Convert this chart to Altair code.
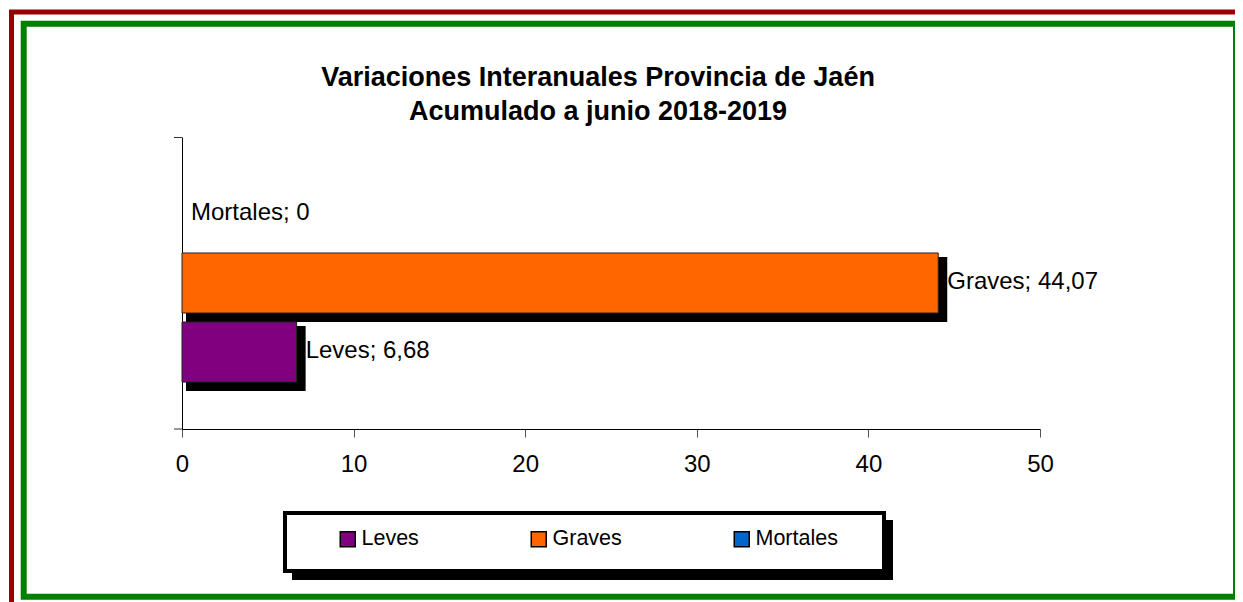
import altair as alt
import pandas as pd

# ---- data ----
series = ["Leves", "Graves", "Mortales"]
values = [6.68, 44.07, 0.0]
colors = ["#800080", "#FF6600", "#0066CC"]
bar_order = ["Mortales", "Graves", "Leves"]
x_ticks = [0, 10, 20, 30, 40, 50]
title_lines = ["Variaciones Interanuales Provincia de Jaén", "Acumulado a junio 2018-2019"]

FONT = "Liberation Sans"


def fmt(v):
    s = f"{v:.2f}".rstrip("0").rstrip(".")
    return s.replace(".", ",")


df = pd.DataFrame({
    "serie": series,
    "valor": values,
    "etiqueta": [f"{s}; {fmt(v)}" for s, v in zip(series, values)],
})

x_enc = alt.X(
    "valor:Q",
    scale=alt.Scale(domain=[0, 50], nice=False, zero=True),
    axis=alt.Axis(values=x_ticks, title=None, grid=False, labelFontSize=24,
                  labelFont=FONT, labelColor="black", tickSize=8, tickColor="#555",
                  domainColor="black", labelPadding=15, labelFlush=False, format="d"),
)
y_enc = alt.Y(
    "serie:N",
    scale=alt.Scale(domain=bar_order, paddingInner=0.13, paddingOuter=0.68),
    axis=alt.Axis(title=None, labels=False, ticks=False, domainColor="black"),
)
color = alt.Color(
    "serie:N",
    scale=alt.Scale(domain=series, range=colors),
    legend=alt.Legend(title=None, orient="none", legendX=155, legendY=391,
                      direction="horizontal", columns=3, columnPadding=109,
                      symbolType="square", symbolSize=225, symbolStrokeColor="black",
                      symbolStrokeWidth=1.5, symbolOpacity=1, labelFont=FONT,
                      labelFontSize=21.5, labelColor="black", labelOffset=3, padding=0),
)

base = alt.Chart(df)

shadow = base.transform_filter("datum.valor > 0").mark_bar(
    color="black", xOffset=6.5, yOffset=6.5, stroke="black", strokeWidth=5
).encode(x=x_enc, y=y_enc)

bars = base.transform_filter("datum.valor > 0").mark_bar(
    stroke="#222", strokeWidth=1, opacity=1
).encode(x=x_enc, y=y_enc, color=color)

labels = base.mark_text(
    align="left", baseline="middle", dx=9, dy=-1, font=FONT, fontSize=24, color="black"
).encode(x=x_enc, y=y_enc, text="etiqueta:N")

deco = alt.Chart(pd.DataFrame({"k": [0]}))


def box(x, x2, y, y2, **kw):
    return deco.mark_rect(**kw).encode(
        x=alt.value(x), x2=alt.value(x2), y=alt.value(y), y2=alt.value(y2)
    )


def tick(y):
    return deco.mark_rule(color="#333", strokeWidth=1).encode(
        x=alt.value(-8), x2=alt.value(0), y=alt.value(y)
    )


red_frame = box(-170.5, 1090, -125, 490, fill="transparent", stroke="#990000", strokeWidth=5)
green_frame = box(-158.3, 1054, -113.3, 459.7, fill="transparent", stroke="#008000", strokeWidth=6)
legend_shadow = box(110, 711, 383, 443, fill="black")
legend_box = box(103, 702, 376, 434, fill="white", stroke="black", strokeWidth=4)

chart = alt.layer(
    red_frame, green_frame, legend_shadow, legend_box, tick(0.5), tick(292),
    shadow, bars, labels
).properties(
    width=858,
    height=292,
    autosize=alt.AutoSizeParams(type="none"),
    padding={"left": 174, "top": 129, "right": 195, "bottom": 173},
    title=alt.TitleParams(text=title_lines, font=FONT, fontSize=27, fontWeight="bold",
                          color="black", anchor="middle", frame="group", dx=-13,
                          offset=0, dy=143.5, baseline="bottom", lineHeight=34),
    background="white",
).configure_view(strokeWidth=0)

chart.save("out.html", embed_options={"renderer": "svg", "actions": False})
